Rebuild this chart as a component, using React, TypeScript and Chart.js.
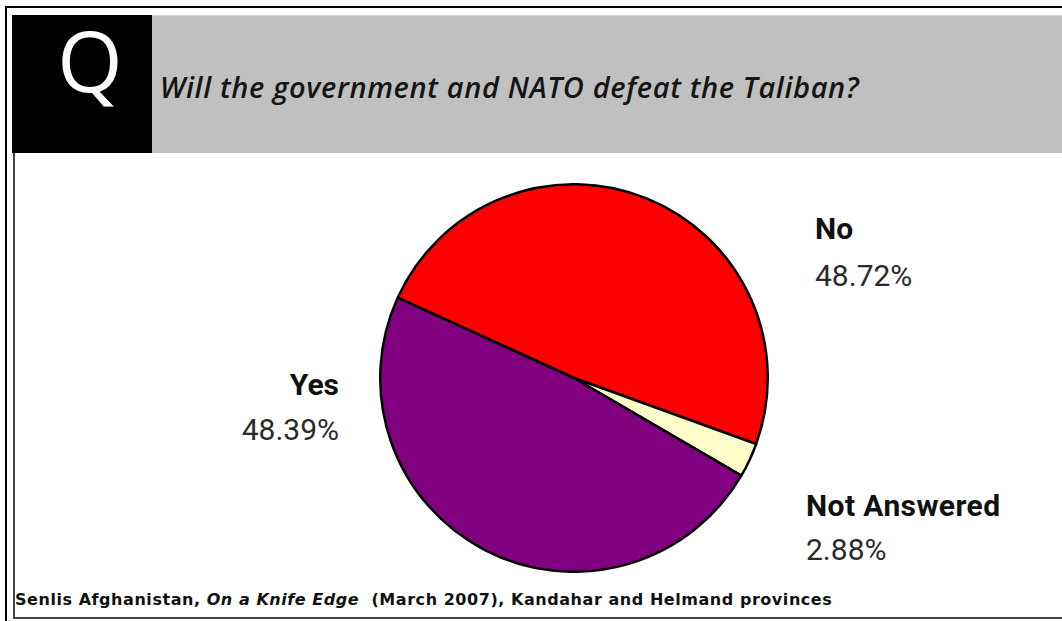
import React, { useEffect, useRef } from "react";
import { Chart, registerables } from "chart.js";

Chart.register(...registerables);

// ---- data ----
const categories: string[] = ["No", "Not Answered", "Yes"];
const values: number[] = [48.72, 2.88, 48.39];
const valueLabels: string[] = ["48.72%", "2.88%", "48.39%"];
const sliceColors: string[] = ["#FF0000", "#FFFFCC", "#800080"];
const titleText = "Will the government and NATO defeat the Taliban?";
const sourcePrefix = "Senlis Afghanistan, ";
const sourceItalic = "On a Knife Edge";
const sourceSuffix = "  (March 2007), Kandahar and Helmand provinces";

const LABEL_FONT = "Roboto, 'Noto Sans', sans-serif";
const TEXT_FONT = "'Open Sans', 'Noto Sans', sans-serif";
const FOOT_FONT = "'DejaVu Sans', Verdana, sans-serif";

export default function App() {
  const canvasRef = useRef<HTMLCanvasElement | null>(null);

  useEffect(() => {
    document.body.style.margin = "0";
    const canvas = canvasRef.current;
    if (!canvas) return;
    const chart = new Chart(canvas, {
      type: "pie",
      data: {
        labels: categories,
        datasets: [
          {
            data: values,
            backgroundColor: sliceColors,
            borderColor: "#000000",
            borderWidth: 2.5,
          },
        ],
      },
      options: {
        responsive: false,
        animation: false,
        rotation: -65.5,
        layout: { padding: 0 },
        plugins: {
          legend: { display: false },
          tooltip: { enabled: false },
        },
      },
    });
    return () => chart.destroy();
  }, []);

  const boldLabel: React.CSSProperties = {
    position: "absolute",
    fontFamily: LABEL_FONT,
    fontWeight: 700,
    fontSize: 30,
    lineHeight: "30px",
    color: "#111",
    whiteSpace: "nowrap",
  };
  const pctLabel: React.CSSProperties = {
    position: "absolute",
    fontFamily: LABEL_FONT,
    fontWeight: 400,
    fontSize: 30,
    lineHeight: "30px",
    color: "#2a2a2a",
    whiteSpace: "nowrap",
  };

  return (
    <div
      style={{
        position: "fixed",
        left: 0,
        top: 0,
        width: 1062,
        height: 621,
        overflow: "hidden",
        background: "#ffffff",
      }}
    >
      {/* outer border */}
      <div
        style={{
          position: "absolute",
          left: 5,
          top: 6,
          width: 1100,
          height: 700,
          borderLeft: "2px solid #000",
          borderTop: "2px solid #000",
        }}
      />
      {/* inner frame */}
      <div
        style={{
          position: "absolute",
          left: 13,
          top: 153,
          width: 1100,
          height: 464,
          borderLeft: "2px solid #444",
          borderBottom: "2px solid #444",
        }}
      />
      {/* Q box */}
      <div
        style={{
          position: "absolute",
          left: 12,
          top: 15,
          width: 140,
          height: 138,
          background: "#000",
        }}
      />
      <div
        style={{
          position: "absolute",
          left: 12,
          top: 18,
          width: 156,
          textAlign: "center",
          fontFamily: TEXT_FONT,
          fontSize: 84,
          lineHeight: "84px",
          color: "#fff",
        }}
      >
        Q
      </div>
      {/* gray title band */}
      <div
        style={{
          position: "absolute",
          left: 152,
          top: 15,
          width: 1000,
          height: 138,
          background: "#C0C0C0",
          borderTop: "1px solid #d6d6d6",
          boxSizing: "border-box",
        }}
      />
      <div
        style={{
          position: "absolute",
          left: 160,
          top: 72,
          fontFamily: TEXT_FONT,
          fontStyle: "italic",
          fontWeight: 600,
          fontSize: 29,
          lineHeight: "29px",
          letterSpacing: 0.62,
          color: "#151515",
          whiteSpace: "nowrap",
        }}
      >
        {titleText}
      </div>

      {/* pie */}
      <canvas
        ref={canvasRef}
        width={390}
        height={390}
        style={{ position: "absolute", left: 379, top: 183, width: 390, height: 390 }}
      />

      {/* labels */}
      <div style={{ ...boldLabel, left: 815, top: 214 }}>{categories[0]}</div>
      <div style={{ ...pctLabel, left: 815, top: 261 }}>{valueLabels[0]}</div>

      <div style={{ ...boldLabel, right: 1062 - 339, top: 370, textAlign: "right" }}>{categories[2]}</div>
      <div style={{ ...pctLabel, right: 1062 - 339, top: 415, textAlign: "right" }}>{valueLabels[2]}</div>

      <div style={{ ...boldLabel, left: 806, top: 491, letterSpacing: 0.4 }}>{categories[1]}</div>
      <div style={{ ...pctLabel, left: 806, top: 535 }}>{valueLabels[1]}</div>

      {/* source */}
      <div
        style={{
          position: "absolute",
          left: 15,
          top: 592,
          fontFamily: FOOT_FONT,
          fontWeight: 700,
          fontSize: 16,
          lineHeight: "16px",
          letterSpacing: 0.55,
          color: "#111",
          whiteSpace: "pre",
        }}
      >
        {sourcePrefix}
        <span style={{ fontStyle: "italic" }}>{sourceItalic}</span>
        {sourceSuffix}
      </div>
    </div>
  );
}
